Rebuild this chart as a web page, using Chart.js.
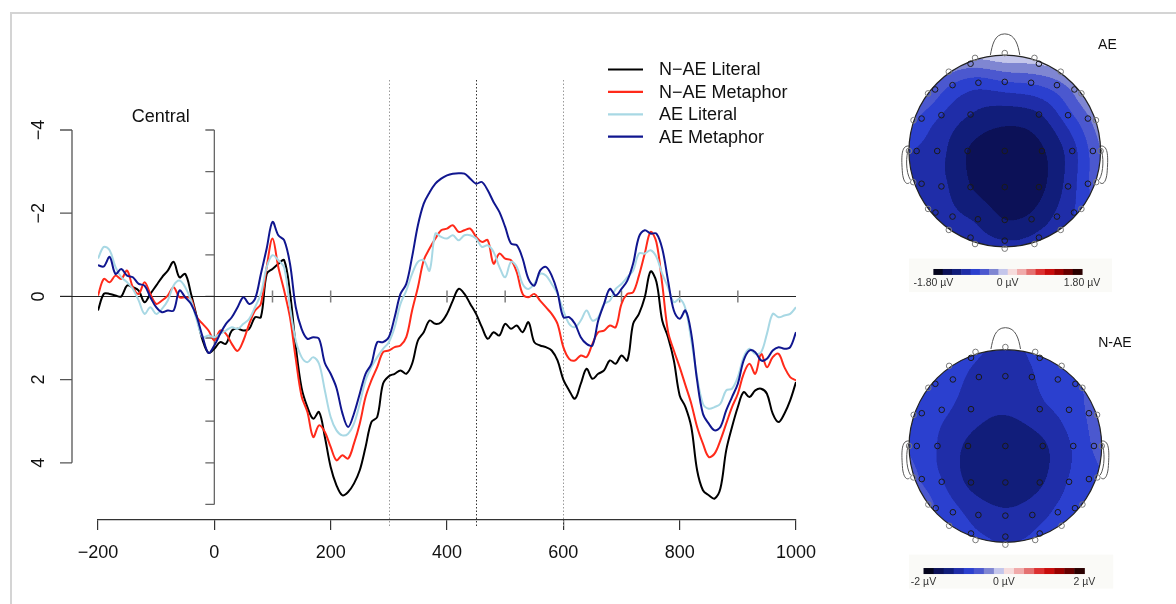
<!DOCTYPE html>
<html>
<head>
<meta charset="utf-8">
<script src="https://cdn.jsdelivr.net/npm/chart.js@4.4.1/dist/chart.umd.min.js"></script>
<style>
  html, body { margin: 0; padding: 0; background: #fff; }
  body { width: 1176px; height: 604px; position: relative; overflow: hidden; }
  #frame { position: absolute; left: 10px; top: 12px; width: 1180px; height: 610px;
    border-top: 2px solid #d4d4d4; border-left: 2px solid #d4d4d4; }
  canvas { position: absolute; }
  #erp { left: 0; top: 0; }
  #aeMap { left: 880px; top: 0; }
  #naeMap { left: 880px; top: 300px; }
</style>
</head>
<body>
<div id="frame"></div>
<canvas id="erp" width="880" height="604"></canvas>
<canvas id="aeMap" width="296" height="300"></canvas>
<canvas id="naeMap" width="296" height="304"></canvas>
<script>
/* ---------- ERP DATA (µV, every 10 ms from -200 to 1000) ---------- */
const times = Array.from({ length: 121 }, (_, i) => -200 + i * 10);

const nAeLiteral = [
  0.34, -0.06, -0.06, -0.02, 0, -0.26, -0.22, -0.14, 0.14, -0.06,
  -0.26, -0.46, -0.62, -0.83, -0.46, -0.54, -0.06, 0.5, 1.06, 1.36,
  1.26, 1.1, 1.14, 0.82, 0.78, 0.82, 0.78, 0.5, 0.5, -0.54,
  -0.66, -0.78, -0.87, -0.1, 1.2, 2.2, 2.66, 2.94, 2.78, 3.38,
  4.1, 4.54, 4.78, 4.7, 4.5, 4.18, 3.62, 3.02, 2.9, 2.1,
  1.92, 1.86, 1.78, 1.86, 1.62, 1.06, 0.86, 0.58, 0.66, 0.62,
  0.42, 0.1, -0.18, -0.06, 0.18, 0.42, 0.74, 1.02, 0.86, 0.94,
  0.66, 0.78, 0.7, 0.86, 0.62, 1.1, 1.18, 1.22, 1.3, 1.54,
  2.0, 2.26, 2.46, 2.1, 1.74, 1.98, 1.86, 1.78, 1.54, 1.62,
  1.42, 1.54, 0.66, 0.42, 0.02, -0.6, -0.35, 0.58, 0.98, 1.54,
  2.38, 2.66, 3.14, 4.18, 4.66, 4.78, 4.86, 4.62, 3.7, 3.14,
  2.66, 2.3, 2.42, 2.26, 2.22, 2.34, 2.82, 3.02, 2.82, 2.5,
  2.06,
];
const nAeMetaphor = [
  -0.02, -0.42, -0.34, -0.5, -0.42, -0.62, -0.22, -0.06, -0.34, -0.06,
  0.18, 0.1, -0.02, -0.22, 0.02, 0.02, 0.06, 0.5, 0.66, 0.82,
  1.06, 0.82, 0.9, 1.14, 1.31, 1.06, 0.66, 0.34, 0.18, -0.7,
  -1.39, -0.7, -0.14, 0.5, 1.5, 2.4, 2.78, 3.38, 3.1, 3.26,
  3.62, 3.94, 3.82, 3.9, 3.54, 3.06, 2.42, 2.02, 1.7, 1.34,
  1.3, 1.22, 1.18, 0.98, 0.34, -0.22, -0.87, -1.15, -1.39, -1.59,
  -1.63, -1.71, -1.55, -1.59, -1.63, -1.43, -1.31, -1.35, -0.79, -1.03,
  -0.91, -0.87, -0.58, -0.06, 0.02, -0.06, 0.1, 0.26, 0.42, 0.66,
  1.22, 1.5, 1.54, 1.42, 1.46, 1.14, 0.86, 0.82, 0.7, 0.74,
  0.18, -0.06, -0.1, -0.5, -1.03, -1.55, -1.3, -0.3, 0.85, 1.3,
  1.7, 2.14, 2.58, 3.14, 3.54, 3.86, 3.78, 3.46, 3.06, 2.66,
  2.34, 1.86, 1.62, 1.86, 1.38, 1.7, 1.46, 1.38, 1.7, 1.94,
  2.02,
];
const aeLiteral = [
  -0.91, -1.19, -1.11, -0.71, -0.46, -0.34, -0.18, 0.1, 0.42, 0.26,
  0.42, 0.3, 0.1, -0.26, -0.38, -0.22, 0.1, 0.58, 0.98, 0.94,
  0.98, 0.9, 0.82, 0.74, 0.78, 0.66, 0.54, 0.26, -0.06, -0.7,
  -0.99, -0.87, -0.7, 0.26, 1.06, 1.46, 1.58, 1.46, 1.62, 2.26,
  2.9, 3.22, 3.34, 3.3, 3.06, 2.58, 2.02, 1.7, 1.46, 1.26,
  1.1, 0.74, 0.18, -0.14, -0.54, -0.83, -0.87, -0.62, -1.51, -1.43,
  -1.39, -1.47, -1.35, -1.47, -1.47, -1.39, -1.19, -1.23, -1.07, -0.71,
  -0.46, -0.83, -0.71, -0.3, -0.18, -0.3, -0.54, -0.5, -0.3, -0.06,
  0.34, 0.66, 0.74, 0.58, 0.34, 0.58, 0.5, 0.18, 0.1, -0.18,
  -0.3, -0.46, -0.62, -1.03, -1.03, -1.11, -0.95, -0.54, -0.22, 0.14,
  0.06, 0.3, 1.06, 1.94, 2.58, 2.7, 2.66, 2.58, 2.26, 2.22,
  1.94, 1.46, 1.26, 1.38, 1.34, 0.9, 0.42, 0.5, 0.46, 0.42,
  0.26,
];
const aeMetaphor = [
  -0.75, -0.72, -0.95, -0.54, -0.66, -0.5, -0.46, -0.3, -0.26, 0.02,
  0.26, 0.38, 0.34, 0.34, -0.14, 0.02, 0.18, 0.5, 0.98, 1.36,
  1.18, 0.9, 0.66, 0.5, 0.26, 0.02, 0.18, 0.06, -0.54, -1.15,
  -1.79, -1.47, -1.35, -0.79, 0.26, 0.78, 1.02, 0.98, 1.02, 1.6,
  1.86, 2.2, 2.8, 3.14, 2.82, 2.34, 1.86, 1.62, 1.1, 1.1,
  0.98, 0.5, -0.06, -0.3, -0.95, -1.71, -2.23, -2.5, -2.71, -2.83,
  -2.91, -2.95, -2.96, -2.95, -2.83, -2.71, -2.75, -2.55, -2.27, -2.03,
  -1.67, -1.27, -1.23, -0.91, -0.42, -0.26, -0.62, -0.71, -0.5, -0.1,
  0.5, 0.5, 0.66, 0.98, 1.14, 1.18, 0.58, 0.18, -0.18, -0.02,
  -0.18, -0.38, -0.79, -1.43, -1.59, -1.51, -1.51, -1.15, -0.38, 0.34,
  0.54, 0.34, 0.9, 2.02, 2.82, 3.06, 3.22, 3.14, 2.74, 2.42,
  2.1, 1.54, 1.3, 1.34, 1.54, 1.5, 1.3, 1.22, 1.26, 1.22,
  0.86,
];

const seriesLabels = ["N\u2212AE Literal", "N\u2212AE Metaphor", "AE Literal", "AE Metaphor"];
const seriesColors = ["#000000", "#ff2a1a", "#a8d8e4", "#10168f"];
const seriesValues = [nAeLiteral, nAeMetaphor, aeLiteral, aeMetaphor];

const leftTicks = [-4, -2, 0, 2, 4];
const innerTicks = [-4, -3, -2, -1, 0, 1, 2, 3, 4, 5];
const zeroLineTicks = [100, 200, 400, 500, 700, 800, 900];
const windowLines = [300, 450, 600];
const windowColors = ["#9a9a9a", "#333333", "#9a9a9a"];

/* ---------- TOPOGRAPHY DATA (electrode positions, µV at 450 ms) ---------- */
const elecX = [
  0, -0.31, 0.31, -0.357, 0.357, -0.584, 0.584, -0.8, -0.727, -0.545,
  -0.275, 0, 0.275, 0.545, 0.727, 0.8, -0.952, -0.868, -0.661, -0.357,
  0.357, 0.661, 0.868, 0.952, -1.0, -0.92, -0.705, -0.388, 0, 0.388,
  0.705, 0.92, 1.0, -0.955, -0.868, -0.661, -0.357, 0, 0.357, 0.661,
  0.868, 0.955, -0.8, -0.723, -0.545, -0.28, 0, 0.28, 0.545, 0.723,
  0.8, -0.584, 0.584, -0.357, 0.357, -0.31, 0.31, 0, 0,
];
const elecY = [
  1.02, 0.97, 0.97, 0.909, 0.909, 0.826, 0.826, 0.6, 0.641, 0.686,
  0.711, 0.72, 0.711, 0.686, 0.641, 0.6, 0.321, 0.338, 0.373, 0.38,
  0.38, 0.373, 0.338, 0.321, 0, 0, 0, 0, 0, 0,
  0, 0, 0, -0.324, -0.341, -0.369, -0.376, -0.376, -0.376, -0.369,
  -0.341, -0.324, -0.603, -0.641, -0.683, -0.711, -0.718, -0.711, -0.683, -0.641,
  -0.603, -0.822, -0.822, -0.902, -0.902, -0.969, -0.969, -0.934, -1.017,
];
const aeTopo = [
  0.02, -0.2, -0.1, -0.35, -0.2, -0.4, -0.25, -0.45, -0.55, -0.7,
  -0.8, -0.68, -0.65, -0.55, -0.4, -0.3, -0.6, -0.75, -0.9, -1.12,
  -1.15, -0.75, -0.5, -0.35, -0.88, -0.92, -1.02, -1.36, -1.48, -1.38,
  -1.0, -0.6, -0.45, -0.98, -1.0, -1.06, -1.35, -1.5, -1.42, -1.05,
  -0.7, -0.55, -1.0, -1.02, -1.08, -1.15, -1.36, -1.3, -1.08, -0.9,
  -0.82, -1.02, -0.98, -1.05, -1.06, -1.03, -1.03, -1.12, -1.05,
];
const nAeTopo = [
  -1.05, -0.95, -0.95, -0.95, -0.95, -0.85, -0.85, -0.85, -0.87, -0.92,
  -1.1, -1.1, -1.02, -0.88, -0.85, -0.75, -0.85, -0.88, -0.95, -1.1,
  -1.05, -0.9, -0.72, -0.65, -0.78, -0.85, -1.0, -1.3, -1.45, -1.3,
  -0.98, -0.72, -0.65, -0.65, -0.8, -0.98, -1.32, -1.4, -1.3, -0.98,
  -0.82, -0.8, -0.65, -0.78, -0.9, -1.1, -1.2, -1.12, -0.95, -0.85,
  -0.82, -0.8, -0.88, -0.95, -0.95, -0.92, -0.95, -1.05, -1.0,
];

/* 16 colour levels from -max to +max */
const levelColors = [
  "#05051c", "#0c1157", "#111d7a", "#1f2da8", "#2b40cf", "#4b58cf", "#7f86d2", "#c4c6eb",
  "#f6dcdc", "#f0aaaa", "#e47070", "#dc3030", "#c80c0c", "#9a0000", "#660000", "#2a0000",
];

const FONT = "'Liberation Sans', Arial, sans-serif";
const fmtTick = (v) => (v < 0 ? "\u2212" + Math.abs(v) : String(v));

/* ---------- ERP DECORATIONS ---------- */
const erpDecor = {
  id: "erpDecor",
  beforeDatasetsDraw(chart) {
    const { ctx, chartArea: area, scales: { x, y } } = chart;
    const axisX = area.left - 26;
    ctx.save();

    // analysis window markers
    ctx.lineWidth = 1;
    ctx.setLineDash([1.5, 2]);
    windowLines.forEach((t, i) => {
      const px = Math.round(x.getPixelForValue(t)) + 0.5;
      ctx.strokeStyle = windowColors[i];
      ctx.beginPath();
      ctx.moveTo(px, area.top - 50);
      ctx.lineTo(px, area.bottom + 8);
      ctx.stroke();
    });
    ctx.setLineDash([]);

    // left axis
    ctx.strokeStyle = "#555";
    ctx.lineWidth = 1.3;
    ctx.beginPath();
    ctx.moveTo(axisX, y.getPixelForValue(leftTicks[0]));
    ctx.lineTo(axisX, y.getPixelForValue(leftTicks[leftTicks.length - 1]));
    leftTicks.forEach((v) => {
      const py = y.getPixelForValue(v);
      ctx.moveTo(axisX, py);
      ctx.lineTo(axisX - 12, py);
    });
    ctx.stroke();

    ctx.fillStyle = "#111";
    ctx.font = "18px " + FONT;
    ctx.textAlign = "center";
    ctx.textBaseline = "middle";
    leftTicks.forEach((v) => {
      ctx.save();
      ctx.translate(axisX - 33, y.getPixelForValue(v));
      ctx.rotate(-Math.PI / 2);
      ctx.fillText(fmtTick(v), 0, 0);
      ctx.restore();
    });

    // stimulus-onset axis
    const x0 = x.getPixelForValue(0);
    ctx.strokeStyle = "#666";
    ctx.lineWidth = 1.3;
    ctx.beginPath();
    ctx.moveTo(x0, y.getPixelForValue(innerTicks[0]));
    ctx.lineTo(x0, y.getPixelForValue(innerTicks[innerTicks.length - 1]));
    innerTicks.forEach((v) => {
      const py = y.getPixelForValue(v);
      ctx.moveTo(x0, py);
      ctx.lineTo(x0 - 9, py);
    });
    ctx.stroke();

    // zero line with time ticks
    const y0 = Math.round(y.getPixelForValue(0)) + 0.5;
    ctx.strokeStyle = "#222";
    ctx.lineWidth = 1.2;
    ctx.beginPath();
    ctx.moveTo(axisX - 12, y0);
    ctx.lineTo(x.getPixelForValue(1000), y0);
    ctx.stroke();
    ctx.strokeStyle = "#808080";
    ctx.lineWidth = 1.5;
    ctx.beginPath();
    zeroLineTicks.forEach((t) => {
      const px = x.getPixelForValue(t);
      ctx.moveTo(px, y0 - 6);
      ctx.lineTo(px, y0 + 6);
    });
    ctx.stroke();
    ctx.restore();
  },
  afterDraw(chart) {
    const { ctx, chartArea: area, scales: { x } } = chart;
    ctx.save();
    ctx.fillStyle = "#111";
    ctx.font = "18px " + FONT;
    ctx.textAlign = "center";
    ctx.textBaseline = "middle";
    ctx.fillText("Central", x.getPixelForValue(-92), area.top - 13);

    // legend
    const lx = area.left + 510;
    ctx.textAlign = "left";
    seriesLabels.forEach((label, i) => {
      const ly = area.top - 60.5 + i * 22.4;
      ctx.strokeStyle = seriesColors[i];
      ctx.lineWidth = 2.2;
      ctx.beginPath();
      ctx.moveTo(lx, ly);
      ctx.lineTo(lx + 35, ly);
      ctx.stroke();
      ctx.fillText(label, lx + 51, ly + 1);
    });
    ctx.restore();
  },
};

new Chart(document.getElementById("erp"), {
  type: "line",
  data: {
    datasets: seriesValues.map((vals, i) => ({
      label: seriesLabels[i],
      data: times.map((t, k) => ({ x: t, y: vals[k] })),
      borderColor: seriesColors[i],
      borderWidth: 2,
      pointRadius: 0,
      tension: 0.35,
      fill: false,
      order: 3 - i,
    })),
  },
  options: {
    responsive: false,
    animation: false,
    layout: { padding: { left: 98, right: 84, top: 130, bottom: 24 } },
    plugins: { legend: { display: false }, tooltip: { enabled: false } },
    scales: {
      x: {
        type: "linear",
        min: -200,
        max: 1000,
        afterFit: (scale) => { scale.height = 60; },
        ticks: {
          stepSize: 200,
          color: "#111",
          padding: 12,
          font: { family: FONT, size: 18 },
          callback: (v) => fmtTick(v),
        },
        grid: { drawOnChartArea: false, tickLength: 10, color: "#333", lineWidth: 1.2 },
        border: { color: "#333", width: 1.2 },
      },
      y: {
        display: false,
        reverse: true,
        min: -4,
        max: 5.375,
      },
    },
  },
  plugins: [erpDecor],
});

/* ---------- SCALP MAPS ---------- */
const kernel = (r) => (r > 0 ? r * r * Math.log(r) : 0);

function fitSpline(xs, ys, vals, smooth) {
  const n = xs.length, m = n + 3;
  const A = Array.from({ length: m }, () => new Float64Array(m));
  const b = new Float64Array(m);
  for (let i = 0; i < n; i++) {
    for (let j = 0; j < n; j++) A[i][j] = kernel(Math.hypot(xs[i] - xs[j], ys[i] - ys[j]));
    A[i][i] += smooth;
    A[i][n] = A[n][i] = 1;
    A[i][n + 1] = A[n + 1][i] = xs[i];
    A[i][n + 2] = A[n + 2][i] = ys[i];
    b[i] = vals[i];
  }
  for (let c = 0; c < m; c++) {
    let p = c;
    for (let r = c + 1; r < m; r++) if (Math.abs(A[r][c]) > Math.abs(A[p][c])) p = r;
    [A[c], A[p]] = [A[p], A[c]];
    [b[c], b[p]] = [b[p], b[c]];
    for (let r = c + 1; r < m; r++) {
      const f = A[r][c] / A[c][c];
      if (!f) continue;
      for (let k = c; k < m; k++) A[r][k] -= f * A[c][k];
      b[r] -= f * b[c];
    }
  }
  const w = new Float64Array(m);
  for (let r = m - 1; r >= 0; r--) {
    let s = b[r];
    for (let k = r + 1; k < m; k++) s -= A[r][k] * w[k];
    w[r] = s / A[r][r];
  }
  return (px, py) => {
    let s = w[n] + w[n + 1] * px + w[n + 2] * py;
    for (let i = 0; i < n; i++) s += w[i] * kernel(Math.hypot(px - xs[i], py - ys[i]));
    return s;
  };
}

const hexRgb = (h) => [1, 3, 5].map((o) => parseInt(h.slice(o, o + 2), 16));
const levelRgb = levelColors.map(hexRgb);

const topoPlugin = {
  id: "topo",
  beforeDatasetsDraw(chart, args, opts) {
    const { ctx, scales: { x, y } } = chart;
    const cx = x.getPixelForValue(0), cy = y.getPixelForValue(0);
    const r = x.getPixelForValue(1) - cx;
    const field = fitSpline(elecX, elecY, opts.values, 0.01);
    const ss = 2, size = Math.ceil(2 * r * ss);
    const off = document.createElement("canvas");
    off.width = size; off.height = size;
    const octx = off.getContext("2d");
    const img = octx.createImageData(size, size);
    for (let j = 0; j < size; j++) {
      const hy = y.getValueForPixel(cy - r + (j + 0.5) / ss);
      for (let i = 0; i < size; i++) {
        const hx = x.getValueForPixel(cx - r + (i + 0.5) / ss);
        if (hx * hx + hy * hy > 1.03) continue;
        const v = field(hx, hy);
        let k = Math.floor(((v + opts.max) / (2 * opts.max)) * levelColors.length);
        k = Math.max(0, Math.min(levelColors.length - 1, k));
        const o = (j * size + i) * 4;
        img.data[o] = levelRgb[k][0];
        img.data[o + 1] = levelRgb[k][1];
        img.data[o + 2] = levelRgb[k][2];
        img.data[o + 3] = 255;
      }
    }
    octx.putImageData(img, 0, 0);
    ctx.save();
    ctx.beginPath();
    ctx.arc(cx, cy, r, 0, Math.PI * 2);
    ctx.clip();
    ctx.imageSmoothingEnabled = true;
    ctx.drawImage(off, cx - r, cy - r, 2 * r, 2 * r);
    ctx.restore();

    // head outline, nose, ears
    const P = (hx, hy) => [x.getPixelForValue(hx), y.getPixelForValue(hy)];
    ctx.save();
    ctx.strokeStyle = "#555";
    ctx.lineWidth = 1;
    ctx.beginPath();
    ctx.moveTo(...P(-0.15, 1.0));
    ctx.bezierCurveTo(...P(-0.13, 1.1), ...P(-0.11, 1.22), ...P(0, 1.22));
    ctx.bezierCurveTo(...P(0.11, 1.22), ...P(0.14, 1.1), ...P(0.157, 1.0));
    ctx.stroke();
    [-1, 1].forEach((s) => {
      ctx.beginPath();
      ctx.moveTo(...P(s * 0.99, 0.05));
      ctx.bezierCurveTo(...P(s * 1.08, 0.07), ...P(s * 1.08, -0.05), ...P(s * 1.07, -0.2));
      ctx.bezierCurveTo(...P(s * 1.065, -0.31), ...P(s * 1.03, -0.36), ...P(s * 0.995, -0.33));
      ctx.moveTo(...P(s * 1.0, 0.03));
      ctx.bezierCurveTo(...P(s * 1.035, -0.05), ...P(s * 1.035, -0.22), ...P(s * 0.985, -0.3));
      ctx.stroke();
    });
    ctx.strokeStyle = "#222";
    ctx.lineWidth = 1.2;
    ctx.beginPath();
    ctx.arc(cx, cy, r, 0, Math.PI * 2);
    ctx.stroke();
    ctx.restore();
  },
  afterDraw(chart, args, opts) {
    const { ctx, scales: { x, y } } = chart;
    ctx.save();
    // colour bar panel
    const bx0 = x.getPixelForValue(-1.0), bx1 = x.getPixelForValue(1.12);
    const by0 = y.getPixelForValue(-1.12), by1 = y.getPixelForValue(-1.47);
    ctx.fillStyle = "#fafaf7";
    ctx.fillRect(bx0, by0, bx1 - bx0, by1 - by0);

    const cl = x.getPixelForValue(opts.barLeft), cr = x.getPixelForValue(opts.barRight);
    const ct = y.getPixelForValue(opts.barTop), cb = y.getPixelForValue(opts.barTop - 0.062);
    const cw = (cr - cl) / levelColors.length;
    levelColors.forEach((c, k) => {
      ctx.fillStyle = c;
      ctx.fillRect(cl + k * cw, ct, cw + 0.5, cb - ct);
    });

    ctx.fillStyle = "#333";
    ctx.font = "10.5px " + FONT;
    ctx.textAlign = "center";
    ctx.textBaseline = "middle";
    const ly = cb + 8;
    ctx.fillText(opts.barLabels[0], cl, ly);
    ctx.fillText(opts.barLabels[1], (cl + cr) / 2, ly);
    ctx.fillText(opts.barLabels[2], cr, ly);

    ctx.fillStyle = "#111";
    ctx.font = "14px " + FONT;
    ctx.textAlign = "left";
    ctx.fillText(opts.title, x.getPixelForValue(opts.titleX), y.getPixelForValue(opts.titleY));
    ctx.restore();
  },
};

function scalpMap(id, values, max, padding, extra) {
  new Chart(document.getElementById(id), {
    type: "scatter",
    data: {
      datasets: [{
        data: elecX.map((ex, i) => ({ x: ex, y: elecY[i] })),
        pointRadius: 2.8,
        borderWidth: 1,
        backgroundColor: "rgba(0,0,0,0)",
        borderColor: (c) => {
          const p = c.raw;
          return p && Math.hypot(p.x, p.y) > 0.99 ? "#7a7a7a" : "#1a1a1a";
        },
      }],
    },
    options: {
      responsive: false,
      animation: false,
      layout: { padding },
      plugins: {
        legend: { display: false },
        tooltip: { enabled: false },
        topo: Object.assign({ values, max }, extra),
      },
      scales: {
        x: { display: false, min: -1.25, max: 1.25 },
        y: { display: false, min: -1.3, max: 1.3 },
      },
    },
    plugins: [topoPlugin],
  });
}

scalpMap("aeMap", aeTopo, 1.8,
  { left: 4.5, right: 51.5, top: 26.2, bottom: 24.2 },
  { title: "AE", titleX: 0.974, titleY: 1.104,
    barLeft: -0.745, barRight: 0.807, barTop: -1.229,
    barLabels: ["-1.80 \u00b5V", "0 \u00b5V", "1.80 \u00b5V"] });

scalpMap("naeMap", nAeTopo, 2,
  { left: 3.25, right: 50.25, top: 19.9, bottom: 31.9 },
  { title: "N-AE", titleX: 0.964, titleY: 1.062,
    barLeft: -0.85, barRight: 0.82, barTop: -1.258,
    barLabels: ["-2 \u00b5V", "0 \u00b5V", "2 \u00b5V"] });
</script>
</body>
</html>
